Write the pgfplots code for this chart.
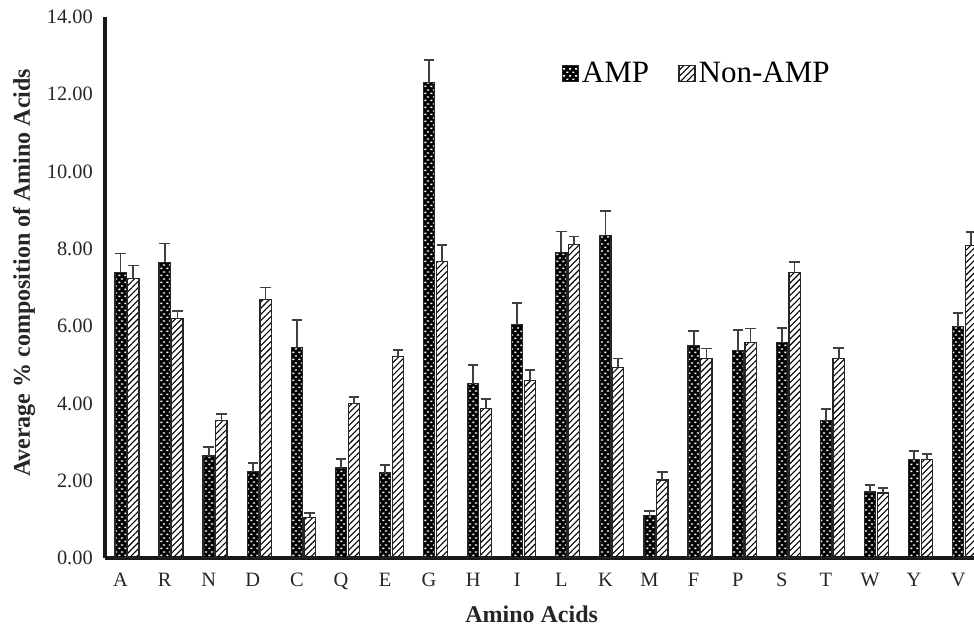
\documentclass[border=0pt]{standalone}
\usepackage{fontspec}
\setmainfont{Liberation Serif}
\usepackage{pgfplots}
\usepackage{pgfplotstable}
\pgfplotsset{compat=1.18}
\usetikzlibrary{patterns,patterns.meta}

% black bars with small white dashes (AMP)
\pgfdeclarepatternformonly{ampdash}{\pgfqpoint{0pt}{0pt}}{\pgfqpoint{2.8pt}{3.4pt}}{\pgfqpoint{2.8pt}{3.4pt}}{%
  \pgfpathrectangle{\pgfqpoint{0.2pt}{0.5pt}}{\pgfqpoint{1.1pt}{0.7pt}}%
  \pgfpathrectangle{\pgfqpoint{1.6pt}{2.2pt}}{\pgfqpoint{1.1pt}{0.7pt}}%
  \pgfusepath{fill}}

\pgfplotstableread{
x  aa  amp   amperr non   nonerr
0  A   7.39  0.49   7.23  0.34
1  R   7.65  0.49   6.19  0.21
2  N   2.64  0.24   3.55  0.18
3  D   2.23  0.23   6.69  0.31
4  C   5.44  0.71   1.04  0.13
5  Q   2.33  0.24   3.99  0.18
6  E   2.20  0.21   5.21  0.18
7  G   12.30 0.59   7.67  0.42
8  H   4.51  0.49   3.86  0.26
9  I   6.04  0.55   4.59  0.28
10 L   7.91  0.54   8.12  0.20
11 K   8.35  0.62   4.93  0.23
12 M   1.09  0.13   2.02  0.21
13 F   5.50  0.38   5.16  0.26
14 P   5.36  0.55   5.57  0.37
15 S   5.57  0.39   7.39  0.26
16 T   3.55  0.31   5.16  0.28
17 W   1.71  0.18   1.68  0.13
18 Y   2.54  0.23   2.54  0.16
19 V   5.99  0.34   8.09  0.34
}\aadata

\begin{document}
\begin{tikzpicture}
\begin{axis}[
  scale only axis,
  width=434.5pt, height=270.5pt,
  xmin=-0.352, xmax=19.36,
  ymin=0, ymax=14,
  ytick={0,2,...,14},
  xtick={0,...,19},
  xticklabels={A,R,N,D,C,Q,E,G,H,I,L,K,M,F,P,S,T,W,Y,V},
  axis lines*=left,
  axis line style={line width=1.7pt, black!90},
  major tick length=0pt,
  ybar, bar width=5.6pt,
  tick label style={font=\fontsize{10.2}{12}\selectfont, black!85},
  yticklabel style={xshift=-2.6pt,
    /pgf/number format/.cd, fixed, fixed zerofill, precision=2, assume math mode=true},
  xticklabel style={yshift=-4pt},
  xlabel={\bfseries Amino Acids},
  ylabel={\bfseries Average \% composition of Amino Acids},
  label style={font=\fontsize{12}{14}\selectfont, black!85},
  xlabel style={at={(axis description cs:0.491,-0.1035)}, anchor=center},
  ylabel style={at={(axis description cs:-0.0932,0.527)}, anchor=center},
  legend image code/.code={\draw[#1, line width=0.6pt] (0pt,-4pt) rectangle (8pt,4pt);},
  legend style={at={(axis description cs:0.518,0.895)}, anchor=west,
    draw=none, fill=none, font=\fontsize{15.5}{16}\selectfont,
    nodes={inner sep=1.6pt},
    /tikz/every even column/.append style={column sep=13pt}},
  legend columns=2,
]
\addplot[bar shift=0pt, draw=black!85, line width=0.6pt, fill=black,
  postaction={pattern=ampdash, pattern color=white},
  error bars/.cd, y dir=plus, y explicit, error mark=|,
  error bar style={line width=0.9pt, black!75},
  error mark options={line width=0.9pt, black!75, mark size=2.6pt}]
  table[x=x, y=amp, y error=amperr] {\aadata};
\addlegendentry{AMP}
\addplot[bar shift=6.4pt, draw=black!85, line width=0.6pt, fill=white,
  pattern={Lines[angle=45, distance=2.2pt, line width=0.55pt]}, pattern color=black,
  error bars/.cd, y dir=plus, y explicit, error mark=|,
  error bar style={line width=0.9pt, black!75},
  error mark options={line width=0.9pt, black!75, mark size=2.6pt}]
  table[x=x, y=non, y error=nonerr] {\aadata};
\addlegendentry{Non-AMP}
\end{axis}
\pgfresetboundingbox
\path[use as bounding box] ([shift={(-52.5pt,-33.5pt)}]current axis.south west)
  rectangle ([shift={(0pt,8.5pt)}]current axis.north east);
\end{tikzpicture}
\end{document}
